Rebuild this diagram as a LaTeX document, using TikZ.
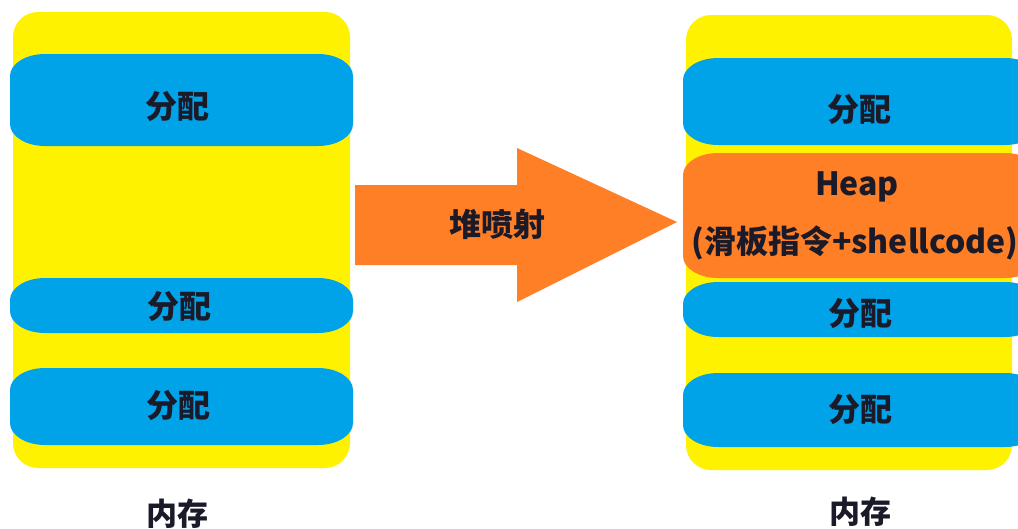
\documentclass[tikz,border=0pt]{standalone}
\usepackage{fontspec}
\newfontfamily\cjk{Noto Sans CJK SC}
\definecolor{memyellow}{HTML}{FFF200}
\definecolor{allocblue}{HTML}{00A2E8}
\definecolor{sprayorange}{HTML}{FF7F27}
\definecolor{inkdark}{HTML}{1A1A28}
% barrel-like band: x1, y1, x2, y2 (pixel coords, y downward)
\newcommand\bandpath[4]{({#1+35},{-(#2)}) -- ({#3-35},{-(#2)})
  arc[start angle=90,end angle=0,x radius=35,y radius=22]
  -- ({#3},{-(#4)+22})
  arc[start angle=0,end angle=-90,x radius=35,y radius=22]
  -- ({#1+35},{-(#4)})
  arc[start angle=270,end angle=180,x radius=35,y radius=22]
  -- ({#1},{-(#2)-22})
  arc[start angle=180,end angle=90,x radius=35,y radius=22] -- cycle}
\tikzset{
  lbl/.style={font=\cjk\bfseries\fontsize{32}{38}\selectfont, text=inkdark, inner sep=0pt, align=center},
  memtxt/.style={font=\cjk\bfseries\fontsize{31}{36}\selectfont, text=inkdark, inner sep=0pt},
}
\begin{document}
\begin{tikzpicture}[x=1pt,y=1pt]
\useasboundingbox[fill=white] (0,0) rectangle (1018,-528);
% left memory
\fill[memyellow, rounded corners=25pt] (13,-12) rectangle (350,-468);
\fill[allocblue] \bandpath{10}{54}{353}{146};
\fill[allocblue] \bandpath{10}{278}{353}{333};
\fill[allocblue] \bandpath{10}{368}{353}{445};
\node[lbl] (la1) at (177,-106) {分配};
\node[lbl] (la2) at (179,-306) {分配};
\node[lbl] (la3) at (178,-405) {分配};
\node[memtxt] (lmem) at (177,-514) {内存};
% arrow
\fill[sprayorange] (355,-185) -- (517,-185) -- (517,-148) -- (677,-222) -- (517,-302) -- (517,-265) -- (355,-265) -- cycle;
\node[lbl] (spray) at (497,-224) {堆喷射};
% right memory
\fill[memyellow, rounded corners=25pt] (686,-15) rectangle (1012,-470);
\fill[allocblue] \bandpath{683}{58}{1040}{145};
\fill[sprayorange] \bandpath{683}{153}{1040}{278};
\fill[allocblue] \bandpath{683}{282}{1040}{337};
\fill[allocblue] \bandpath{683}{373}{1040}{447};
\node[lbl] (ra1) at (859,-109) {分配};
\node[lbl] (heap) at (857,-187) {Heap};
\node[lbl] (heapsub) at (855,-243) {(滑板指令+shellcode)};
\node[lbl] (ra2) at (860,-313) {分配};
\node[lbl] (ra3) at (860,-409) {分配};
\node[memtxt] (rmem) at (860,-512) {内存};
\end{tikzpicture}
\end{document}
